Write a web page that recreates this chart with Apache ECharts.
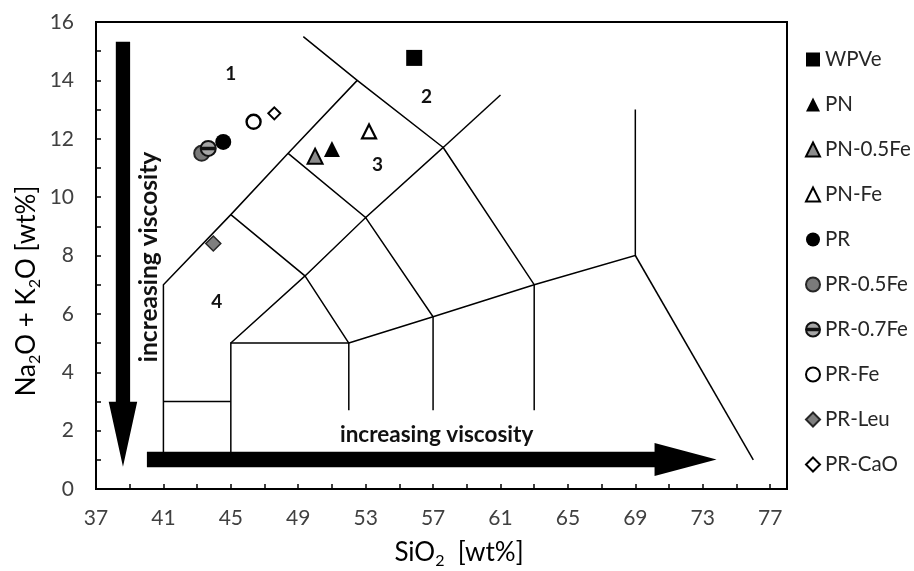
<!DOCTYPE html>
<html><head><meta charset="utf-8">
<script src="https://cdn.jsdelivr.net/npm/echarts@6/dist/echarts.min.js"></script>
<style>html,body{margin:0;padding:0;background:#fff}#c{width:914px;height:571px}</style>
</head><body><div id="c"></div>
<script>
// ---- data ----
const seriesNames = ['WPVe','PN','PN-0.5Fe','PN-Fe','PR','PR-0.5Fe','PR-0.7Fe','PR-Fe','PR-Leu','PR-CaO'];
const sio2   = [55.88, 51.0, 50.0, 53.2, 44.55, 43.27, 43.66, 46.35, 43.96, 47.58];
const alkali = [14.77, 11.65, 11.4, 12.25, 11.89, 11.5, 11.67, 12.58, 8.41, 12.87];

const xTickLabels = [37,41,45,49,53,57,61,65,69,73,77];
const yTickLabels = [0,2,4,6,8,10,12,14,16];

// TAS field boundaries (SiO2, Na2O+K2O)
const tasBoundaries = [
  [[41,1.25],[41,7],[45,9.4],[48.4,11.5],[52.5,14]],
  [[49.3,15.5],[52.5,14],[57.6,11.7]],
  [[41,3],[45,3]],
  [[45,1.25],[45,5],[52,5],[52,2.7]],
  [[45,5],[49.4,7.3],[52,5]],
  [[45,9.4],[49.4,7.3],[53,9.3],[57,5.9],[57,2.7]],
  [[48.4,11.5],[53,9.3],[57.6,11.7],[63,7],[63,2.7]],
  [[57.6,11.7],[61,13.5]],
  [[52,5],[57,5.9],[63,7],[69,8],[69,13]],
  [[69,8],[76,1.0]]
];

const fieldLabels = ['1','2','3','4'];
const fieldX = [45.0, 56.61, 53.71, 44.16];
const fieldY = [14.21, 13.43, 11.12, 6.4];

// arrows: [x1, y1, x2, y2]
const arrows = [[40.02,1.01,73.82,1.01],[38.6,15.32,38.6,0.76]];
const arrowTexts = ['increasing viscosity','increasing viscosity'];
const arrowTextX = [57.21, 40.14];
const arrowTextY = [1.85, 7.95];

// ---- styles ----
const FONT = 'Lato';
const arrowStyles = [{shaft:15.6, head:33, headLen:62},{shaft:14.3, head:28.5, headLen:65}];
const arrowTextStyles = [{rot:0, size:22.5},{rot:Math.PI/2, size:24.5}];
const bar07 = 'path://M10,0 A10,10 0 1,1 10,20 A10,10 0 1,1 10,0 Z M1.5,9 L18.5,9 L18.5,11 L1.5,11 Z';
const markerStyles = [
  {symbol:'rect', size:16, color:'#000', border:'#000', bw:0},
  {symbol:'triangle', size:16, color:'#000', border:'#000', bw:0},
  {symbol:'triangle', size:15, color:'#8c8c8c', border:'#000', bw:2},
  {symbol:'triangle', size:14, color:'#fff', border:'#000', bw:2.2},
  {symbol:'circle', size:16, color:'#000', border:'#000', bw:0},
  {symbol:'circle', size:15, color:'#7a7a7a', border:'#262626', bw:2},
  {symbol:bar07, size:15, color:'#a6a6a6', border:'#111', bw:2},
  {symbol:'circle', size:14, color:'#fff', border:'#000', bw:2.4},
  {symbol:'diamond', size:15, color:'#7f7f7f', border:'#262626', bw:1.5},
  {symbol:'diamond', size:12, color:'#fff', border:'#000', bw:2}
];

const chart = echarts.init(document.getElementById('c'), null, {renderer:'canvas'});

const scatterSeries = seriesNames.map((n,i)=>({
  name:n, type:'scatter', z:5,
  data:[[sio2[i], alkali[i]]],
  symbol: markerStyles[i].symbol, symbolSize: markerStyles[i].size,
  itemStyle:{color:markerStyles[i].color, borderColor:markerStyles[i].border, borderWidth:markerStyles[i].bw, opacity:1},
  emphasis:{disabled:true}
}));

function arrowRender(params, api){
  const i = params.dataIndex;
  const p1 = api.coord([api.value(0), api.value(1)]);
  const p2 = api.coord([api.value(2), api.value(3)]);
  const st = arrowStyles[i];
  const dx = p2[0]-p1[0], dy = p2[1]-p1[1];
  const L = Math.sqrt(dx*dx+dy*dy);
  const ux = dx/L, uy = dy/L, nx = -uy, ny = ux;
  const bx = p2[0]-ux*st.headLen, by = p2[1]-uy*st.headLen;
  const s = st.shaft/2, h = st.head/2;
  const pts = [
    [p1[0]+nx*s, p1[1]+ny*s],[bx+nx*s, by+ny*s],[bx+nx*h, by+ny*h],[p2[0],p2[1]],
    [bx-nx*h, by-ny*h],[bx-nx*s, by-ny*s],[p1[0]-nx*s, p1[1]-ny*s]
  ];
  return {type:'polygon', shape:{points:pts}, style:{fill:'#000'}};
}

function textRender(params, api){
  const i = params.dataIndex;
  const p = api.coord([api.value(0), api.value(1)]);
  const st = arrowTextStyles[i];
  return {type:'text', x:p[0], y:p[1], rotation:st.rot,
    style:{text:arrowTexts[i], fontFamily:FONT, fontWeight:'bold', fontSize:st.size, fill:'#111', align:'center', verticalAlign:'middle'}};
}

function fieldRender(params, api){
  const i = params.dataIndex;
  const p = api.coord([api.value(0), api.value(1)]);
  return {type:'text', x:p[0], y:p[1],
    style:{text:fieldLabels[i], fontFamily:FONT, fontWeight:'bold', fontSize:19, fill:'#111', align:'center', verticalAlign:'middle'}};
}

const titleRich = {
  n:{fontFamily:FONT, fontSize:26, color:'#404040', lineHeight:32, verticalAlign:'middle'},
  s:{fontFamily:FONT, fontSize:16, color:'#404040', lineHeight:16, verticalAlign:'bottom'}
};

chart.setOption({
  animation:false,
  backgroundColor:'#fff',
  textStyle:{fontFamily:FONT},
  grid:{left:96, top:22, right:127, bottom:82, show:true, borderColor:'#000', borderWidth:2, backgroundColor:'transparent'},
  xAxis:{type:'value', min:37, max:78, interval:2,
    axisLine:{lineStyle:{color:'#000', width:2}},
    axisTick:{inside:true, length:5, lineStyle:{color:'#000', width:1.5}},
    axisLabel:{margin:19, fontSize:21, color:'#404040', fontFamily:FONT, showMaxLabel:false,
      formatter:v=> xTickLabels.includes(v) ? String(v) : ''},
    splitLine:{show:false}},
  yAxis:{type:'value', min:0, max:16, interval:1,
    axisLine:{lineStyle:{color:'#000', width:2}},
    axisTick:{inside:true, length:5, lineStyle:{color:'#000', width:1.5}},
    axisLabel:{margin:22, fontSize:21, color:'#404040', fontFamily:FONT,
      formatter:v=> yTickLabels.includes(v) ? String(v) : ''},
    splitLine:{show:false}},
  legend:{orient:'vertical', left:800, top:44, itemWidth:14, itemHeight:14, itemGap:24,
    textStyle:{fontFamily:FONT, fontSize:20.5, color:'#262626'},
    data:seriesNames, selectedMode:false},
  graphic:[
    {type:'text', x:459, y:553, style:{text:'{n|SiO}{s|2}{n|  [wt%]}', align:'center', verticalAlign:'middle', rich:titleRich}},
    {type:'text', x:27, y:291, rotation:Math.PI/2, style:{text:'{n|Na}{s|2}{n|O + K}{s|2}{n|O [wt%]}', align:'center', verticalAlign:'middle', rich:titleRich}}
  ],
  series:[
    {type:'lines', coordinateSystem:'cartesian2d', polyline:true, silent:true, z:2,
      lineStyle:{color:'#000', width:1.5, opacity:1},
      data: tasBoundaries.map(c=>({coords:c}))},
    {type:'custom', renderItem:arrowRender, silent:true, z:3, encode:{x:[0,2], y:[1,3]}, data:arrows},
    {type:'custom', renderItem:textRender, silent:true, z:3, encode:{x:0, y:1},
      data: arrowTextX.map((x,i)=>[x, arrowTextY[i]])},
    {type:'custom', renderItem:fieldRender, silent:true, z:3, encode:{x:0, y:1},
      data: fieldX.map((x,i)=>[x, fieldY[i]])},
    ...scatterSeries
  ]
});
</script></body></html>
